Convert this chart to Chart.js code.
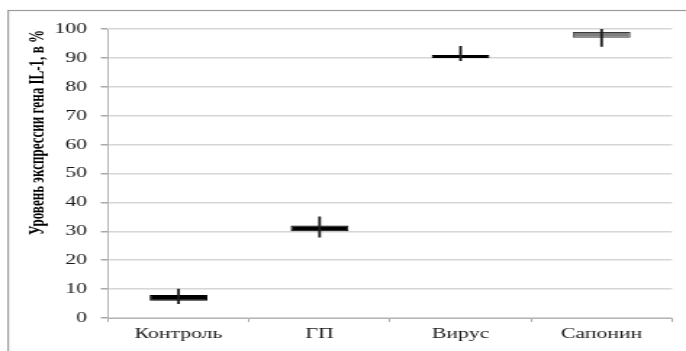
<!DOCTYPE html>
<html lang="ru">
<head>
<meta charset="utf-8">
<title>Уровень экспрессии гена IL-1</title>
<script src="https://cdn.jsdelivr.net/npm/chart.js@4/dist/chart.umd.min.js"></script>
<style>
  html, body { margin: 0; padding: 0; background: #fff; overflow: hidden; }
  /* the chart is laid out narrow and widened horizontally */
  #wrap {
    position: absolute; left: 0; top: 0;
    width: 473px; height: 351px;
    transform: scaleX(1.4503); transform-origin: 0 0;
  }
</style>
</head>
<body>
<div id="wrap"><canvas id="chart"></canvas></div>
<script>
// Groups on the horizontal axis
const categories = ['Контроль', 'ГП', 'Вирус', 'Сапонин'];
// Body of each candle: lower and upper edge, %
const boxLow  = [6, 30, 90, 97];
const boxHigh = [8, 32, 91, 99];
// Whisker range: minimum and maximum, %
const whiskerLow  = [5, 28, 89, 94];
const whiskerHigh = [10, 35, 94, 100];
// Value-axis ticks
const yTicks = [0, 10, 20, 30, 40, 50, 60, 70, 80, 90, 100];
const yTitle = 'Уровень экспрессии гена IL-1, в %';

const boxFill = ['#000000', '#000000', '#000000', '#7f7f7f'];
const boxEdge = ['#000000', '#000000', '#000000', '#3a3a3a'];

const serif = "'Liberation Serif', 'Times New Roman', serif";

// Outer grey frame around the whole figure
const framePlugin = {
  id: 'frame',
  beforeDraw(chart) {
    const ctx = chart.ctx;
    ctx.save();
    ctx.strokeStyle = '#9c9c9c';
    ctx.lineWidth = 1.2;
    ctx.strokeRect(5.6, 10.5, chart.width + 20, chart.height + 20);
    ctx.restore();
  }
};

// Vertical axis caption: bold, slightly condensed, aligned to the top of the plot
const yTitlePlugin = {
  id: 'yTitle',
  afterDraw(chart) {
    const ctx = chart.ctx;
    const area = chart.chartArea;
    ctx.save();
    ctx.translate(26.2, area.top + 1);
    ctx.rotate(-Math.PI / 2);
    ctx.scale(0.9, 1);
    ctx.font = "bold 14.5px " + serif;
    ctx.fillStyle = '#000000';
    ctx.textAlign = 'right';
    ctx.textBaseline = 'middle';
    ctx.fillText(yTitle, 0, 0);
    ctx.restore();
  }
};

new Chart(document.getElementById('chart'), {
  type: 'bar',
  data: {
    labels: categories,
    datasets: [
      {
        label: 'Разброс',
        data: whiskerLow.map((v, i) => [v, whiskerHigh[i]]),
        backgroundColor: '#1e1e1e',
        borderWidth: 0,
        barThickness: 1.2,
        grouped: false,
        order: 0
      },
      {
        label: 'Уровень',
        data: boxLow.map((v, i) => [v, boxHigh[i]]),
        backgroundColor: boxFill,
        borderColor: boxEdge,
        borderWidth: 1,
        borderSkipped: false,
        categoryPercentage: 1,
        barPercentage: 0.41,
        grouped: false,
        order: 1
      }
    ]
  },
  options: {
    responsive: true,
    maintainAspectRatio: false,
    animation: false,
    devicePixelRatio: 1,
    layout: { padding: { left: 0, top: 29, right: 9.6, bottom: 0 } },
    plugins: {
      legend: { display: false },
      tooltip: { enabled: false }
    },
    scales: {
      x: {
        offset: true,
        afterFit(scale) { scale.height = 33; },
        grid: {
          offset: true,
          drawOnChartArea: false,
          drawTicks: true,
          tickLength: 4,
          tickColor: '#a8a8a8',
          lineWidth: 1
        },
        border: { display: true, color: '#b4b4b4', width: 1 },
        ticks: {
          color: '#1a1a1a',
          font: { family: serif, size: 15 },
          padding: 3,
          maxRotation: 0
        }
      },
      y: {
        min: 0,
        max: 100,
        afterFit(scale) { scale.width = 74.5; },
        afterBuildTicks(scale) { scale.ticks = yTicks.map(v => ({ value: v })); },
        grid: {
          color: '#d6d6d6',
          lineWidth: 1.5,
          drawTicks: true,
          tickLength: 5,
          tickColor: '#a8a8a8'
        },
        border: { display: true, color: '#b4b4b4', width: 1 },
        ticks: {
          color: '#1a1a1a',
          font: { family: serif, size: 15 },
          padding: 9.5
        }
      }
    }
  },
  plugins: [framePlugin, yTitlePlugin]
});
</script>
</body>
</html>
